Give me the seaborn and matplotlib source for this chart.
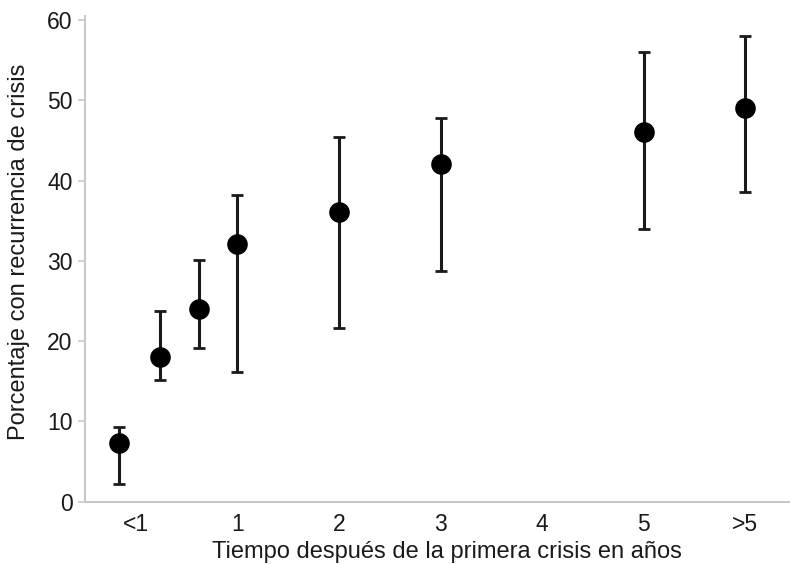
import numpy as np
import pandas as pd
import seaborn as sns
import matplotlib.pyplot as plt
from matplotlib.ticker import FixedLocator

# Data
x_pos = [-0.17, 0.24, 0.62, 1.0, 2.0, 3.0, 5.0, 6.0]
pct = [7.3, 18.0, 24.0, 32.1, 36.1, 42.1, 46.0, 49.05]
ci_low = [2.2, 15.1, 19.1, 16.1, 21.7, 28.8, 34.0, 38.6]
ci_high = [9.35, 23.7, 30.1, 38.2, 45.4, 47.8, 56.0, 58.05]
tick_labels = ["<1", "1", "2", "3", "4", "5", ">5"]

df = pd.DataFrame({"x": x_pos, "pct": pct, "lo": ci_low, "hi": ci_high})

sns.set_style("white")
plt.rcParams['font.family'] = ['Liberation Sans', 'DejaVu Sans']

fig = plt.figure(figsize=(7.9, 5.64), dpi=100)
ax = fig.add_axes([0.1076, 0.1105, 0.8924, 0.861])

# error bars
yerr = np.vstack([df["pct"] - df["lo"], df["hi"] - df["pct"]])
ax.errorbar(df["x"], df["pct"], yerr=yerr, fmt='none', ecolor='#1a1a1a',
            elinewidth=2.2, capsize=4, capthick=2.0, zorder=2)
sns.scatterplot(data=df, x="x", y="pct", ax=ax, color='black', s=220,
                edgecolor='black', linewidth=0, zorder=3)

ax.set_xlim(-0.5, 6.44)
ax.set_ylim(0, 60.5)
ax.set_yticks([0, 10, 20, 30, 40, 50, 60])
ax.set_xticks(range(len(tick_labels)))
ax.set_xticklabels(tick_labels)
ax.xaxis.set_minor_locator(FixedLocator(np.arange(-0.5, 6.6, 1.0)))

ax.tick_params(axis='x', which='major', length=0, pad=8, labelsize=16.5, labelcolor='#1a1a1a')
ax.tick_params(axis='x', which='minor', length=4, width=1.2, color='#c8c8c8', direction='out')
ax.tick_params(axis='y', which='major', length=5, width=1.2, color='#c8c8c8', pad=4,
               labelsize=16.5, labelcolor='#1a1a1a', left=True)

for side in ['top', 'right']:
    ax.spines[side].set_visible(False)
for side in ['left', 'bottom']:
    ax.spines[side].set_color('#c8c8c8')
    ax.spines[side].set_linewidth(1.5)

ax.set_xlabel("Tiempo después de la primera crisis en años", fontsize=17, color='#1a1a1a')
ax.set_ylabel("Porcentaje con recurrencia de crisis", fontsize=17, color='#1a1a1a')
ax.xaxis.set_label_coords(0.513, -0.081)
ax.yaxis.set_label_coords(-0.078, 0.515)

fig.savefig("out.png", dpi=100)
plt.close(fig)
